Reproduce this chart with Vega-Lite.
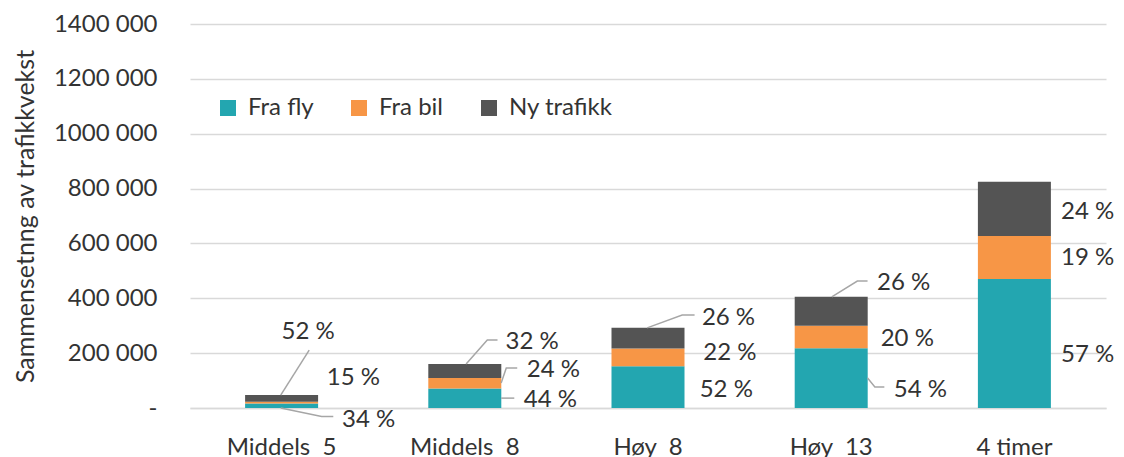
{
  "$schema": "https://vega.github.io/schema/vega-lite/v6.json",
  "width": 916,
  "height": 384,
  "autosize": {"type": "none"},
  "padding": {"left": 190, "top": 24, "right": 18, "bottom": 49},
  "config": {
    "font": "Lato",
    "view": {"stroke": null},
    "text": {"font": "Lato"}
  },
  "datasets": {
    "bars": [
      {"scenario": "Middels 5", "kilde": "Fra fly", "rekkefolge": 1, "verdi": 16000},
      {"scenario": "Middels 5", "kilde": "Fra bil", "rekkefolge": 2, "verdi": 7000},
      {"scenario": "Middels 5", "kilde": "Ny trafikk", "rekkefolge": 3, "verdi": 24000},
      {"scenario": "Middels 8", "kilde": "Fra fly", "rekkefolge": 1, "verdi": 71000},
      {"scenario": "Middels 8", "kilde": "Fra bil", "rekkefolge": 2, "verdi": 38000},
      {"scenario": "Middels 8", "kilde": "Ny trafikk", "rekkefolge": 3, "verdi": 51000},
      {"scenario": "Høy 8", "kilde": "Fra fly", "rekkefolge": 1, "verdi": 152000},
      {"scenario": "Høy 8", "kilde": "Fra bil", "rekkefolge": 2, "verdi": 65000},
      {"scenario": "Høy 8", "kilde": "Ny trafikk", "rekkefolge": 3, "verdi": 76000},
      {"scenario": "Høy 13", "kilde": "Fra fly", "rekkefolge": 1, "verdi": 218000},
      {"scenario": "Høy 13", "kilde": "Fra bil", "rekkefolge": 2, "verdi": 82000},
      {"scenario": "Høy 13", "kilde": "Ny trafikk", "rekkefolge": 3, "verdi": 106000},
      {"scenario": "4 timer", "kilde": "Fra fly", "rekkefolge": 1, "verdi": 470000},
      {"scenario": "4 timer", "kilde": "Fra bil", "rekkefolge": 2, "verdi": 157000},
      {"scenario": "4 timer", "kilde": "Ny trafikk", "rekkefolge": 3, "verdi": 198000}
    ],
    "labels": [
      {"scenario": "Middels 5", "tekst": "52 %", "xo": 0.5, "y": 277000},
      {"scenario": "Middels 5", "tekst": "15 %", "xo": 1.12, "y": 109000},
      {"scenario": "Middels 5", "tekst": "34 %", "xo": 1.33, "y": -44000},
      {"scenario": "Middels 8", "tekst": "32 %", "xo": 1.06, "y": 241000},
      {"scenario": "Middels 8", "tekst": "24 %", "xo": 1.35, "y": 139000},
      {"scenario": "Middels 8", "tekst": "44 %", "xo": 1.31, "y": 29000},
      {"scenario": "Høy 8", "tekst": "26 %", "xo": 1.24, "y": 328000},
      {"scenario": "Høy 8", "tekst": "22 %", "xo": 1.26, "y": 200000},
      {"scenario": "Høy 8", "tekst": "52 %", "xo": 1.21, "y": 66000},
      {"scenario": "Høy 13", "tekst": "26 %", "xo": 1.13, "y": 456000},
      {"scenario": "Høy 13", "tekst": "20 %", "xo": 1.18, "y": 252000},
      {"scenario": "Høy 13", "tekst": "54 %", "xo": 1.36, "y": 66000},
      {"scenario": "4 timer", "tekst": "24 %", "xo": 1.14, "y": 715000},
      {"scenario": "4 timer", "tekst": "19 %", "xo": 1.14, "y": 547000},
      {"scenario": "4 timer", "tekst": "57 %", "xo": 1.14, "y": 193000}
    ],
    "leaders": [
      {"scenario": "Middels 5", "id": "L1", "ord": 1, "xo": 0.49, "y": 47000},
      {"scenario": "Middels 5", "id": "L1", "ord": 2, "xo": 0.88, "y": 211000},
      {"scenario": "Middels 5", "id": "L2", "ord": 1, "xo": 0.49, "y": 0},
      {"scenario": "Middels 5", "id": "L2", "ord": 2, "xo": 1.05, "y": -31000},
      {"scenario": "Middels 5", "id": "L2", "ord": 3, "xo": 1.21, "y": -31000},
      {"scenario": "Middels 8", "id": "L3", "ord": 1, "xo": 0.52, "y": 160000},
      {"scenario": "Middels 8", "id": "L3", "ord": 2, "xo": 0.81, "y": 248000},
      {"scenario": "Middels 8", "id": "L3", "ord": 3, "xo": 0.95, "y": 248000},
      {"scenario": "Middels 8", "id": "L4", "ord": 1, "xo": 1.0, "y": 91000},
      {"scenario": "Middels 8", "id": "L4", "ord": 2, "xo": 1.07, "y": 146000},
      {"scenario": "Middels 8", "id": "L4", "ord": 3, "xo": 1.22, "y": 146000},
      {"scenario": "Middels 8", "id": "L5", "ord": 1, "xo": 1.0, "y": 36000},
      {"scenario": "Middels 8", "id": "L5", "ord": 2, "xo": 1.18, "y": 36000},
      {"scenario": "Høy 8", "id": "L6", "ord": 1, "xo": 0.49, "y": 292000},
      {"scenario": "Høy 8", "id": "L6", "ord": 2, "xo": 0.97, "y": 339000},
      {"scenario": "Høy 8", "id": "L6", "ord": 3, "xo": 1.14, "y": 339000},
      {"scenario": "Høy 13", "id": "L7", "ord": 1, "xo": 0.51, "y": 405000},
      {"scenario": "Høy 13", "id": "L7", "ord": 2, "xo": 0.86, "y": 463000},
      {"scenario": "Høy 13", "id": "L7", "ord": 3, "xo": 1.0, "y": 463000},
      {"scenario": "Høy 13", "id": "L8", "ord": 1, "xo": 1.0, "y": 109000},
      {"scenario": "Høy 13", "id": "L8", "ord": 2, "xo": 1.1, "y": 77000},
      {"scenario": "Høy 13", "id": "L8", "ord": 3, "xo": 1.23, "y": 77000}
    ]
  },
  "layer": [
    {
      "data": {"name": "bars"},
      "mark": {"type": "bar", "width": 73},
      "encoding": {
        "x": {
          "field": "scenario",
          "type": "nominal",
          "scale": {"domain": ["Middels 5", "Middels 8", "Høy 8", "Høy 13", "4 timer"], "paddingInner": 0.6, "paddingOuter": 0.3},
          "axis": {
            "title": null,
            "labelAngle": 0,
            "labelFont": "Lato",
            "labelFontSize": 24,
            "labelColor": "#333333",
            "labelPadding": 27,
            "ticks": false,
            "domainColor": "#D9D9D9",
            "domainWidth": 1.5,
            "labelExpr": "datum.label == '4 timer' ? datum.label : replace(datum.label, ' ', '\u00a0\u00a0')"
          }
        },
        "y": {
          "field": "verdi",
          "type": "quantitative",
          "stack": "zero",
          "scale": {"domain": [0, 1400000], "nice": false},
          "axis": {
            "title": "Sammensetnng av trafikkvekst",
            "titleFont": "Lato",
            "titleFontWeight": "normal",
            "titleFontSize": 25,
            "titleColor": "#333333",
            "titlePadding": 15,
            "values": [0, 200000, 400000, 600000, 800000, 1000000, 1200000, 1400000],
            "labelExpr": "datum.value == 0 ? '-\u00a0\u00a0\u00a0' : floor(datum.value / 1000) + ' 000'",
            "labelFont": "Lato",
            "labelFontSize": 24,
            "labelColor": "#333333",
            "labelPadding": 33,
            "ticks": false,
            "domain": false,
            "gridColor": "#D9D9D9",
            "gridWidth": 1.5
          }
        },
        "color": {
          "field": "kilde",
          "type": "nominal",
          "scale": {"domain": ["Fra fly", "Fra bil", "Ny trafikk"], "range": ["#23A6B0", "#F79646", "#545454"]},
          "legend": {
            "title": null,
            "orient": "none",
            "direction": "horizontal",
            "legendX": 26,
            "legendY": 72,
            "padding": 0,
            "symbolType": "square",
            "symbolSize": 256,
            "symbolStrokeWidth": 0,
            "labelFont": "Lato",
            "labelFontSize": 24,
            "labelColor": "#333333",
            "labelOffset": 8,
            "columnPadding": 33
          }
        },
        "order": {"field": "rekkefolge", "type": "quantitative", "sort": "ascending"}
      }
    },
    {
      "data": {"name": "leaders"},
      "mark": {"type": "line", "color": "#A6A6A6", "strokeWidth": 1.5},
      "encoding": {
        "x": {"field": "scenario", "type": "nominal"},
        "xOffset": {"field": "xo", "type": "quantitative", "scale": {"domain": [0, 1], "range": [0, 73]}},
        "y": {"field": "y", "type": "quantitative"},
        "detail": {"field": "id", "type": "nominal"},
        "order": {"field": "ord", "type": "quantitative"}
      }
    },
    {
      "data": {"name": "labels"},
      "mark": {"type": "text", "align": "left", "baseline": "middle", "fontSize": 24, "color": "#333333"},
      "encoding": {
        "x": {"field": "scenario", "type": "nominal"},
        "xOffset": {"field": "xo", "type": "quantitative", "scale": {"domain": [0, 1], "range": [0, 73]}},
        "y": {"field": "y", "type": "quantitative"},
        "text": {"field": "tekst", "type": "nominal"}
      }
    }
  ]
}
